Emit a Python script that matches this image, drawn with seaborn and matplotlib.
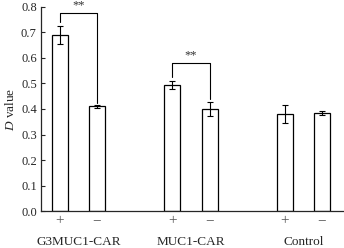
import seaborn as sns
import pandas as pd
import numpy as np
from matplotlib import pyplot as plt

groups = ['G3MUC1-CAR', 'MUC1-CAR', 'Control']
treat = ['+', '\u2212']
d_plus = [0.69, 0.495, 0.38]
d_minus = [0.41, 0.40, 0.385]
err_plus = [0.035, 0.015, 0.035]
err_minus = [0.005, 0.028, 0.008]

df = pd.DataFrame({
  'group': groups + groups,
  'treat': [treat[0]] * 3 + [treat[1]] * 3,
  'D': d_plus + d_minus,
  'err': err_plus + err_minus,
})

sns.set_style('ticks')
plt.rcParams['font.family'] = ['Liberation Serif', 'DejaVu Serif']
plt.rcParams['mathtext.fontset'] = 'custom'
plt.rcParams['mathtext.it'] = 'Liberation Serif:italic'
plt.rcParams['mathtext.rm'] = 'Liberation Serif'

fig = plt.figure(figsize=(3.44, 2.48), dpi=100)
ax = fig.add_axes([0.119, 0.149, 0.881, 0.823])

sns.barplot(data=df, x='group', y='D', hue='treat', hue_order=treat, order=groups,
            width=0.66, gap=0.57, errorbar=None, ax=ax,
            palette=['white', 'white'], edgecolor='black', linewidth=0.9, legend=False)

# error bars at bar centres
centres = {}
for patch, (_, row) in zip(ax.patches, df.iterrows()):
  cx = patch.get_x() + patch.get_width() / 2
  centres[(row['group'], row['treat'])] = cx
  ax.errorbar(cx, row['D'], yerr=row['err'], color='black', lw=0.8,
              capsize=2.5, capthick=0.8)

# significance brackets
def bracket(g, y_top, y_left, y_right):
  x1 = centres[(g, treat[0])]
  x2 = centres[(g, treat[1])]
  ax.plot([x1, x1, x2, x2], [y_left, y_top, y_top, y_right], color='black', lw=0.8)
  ax.text((x1 + x2) / 2, y_top + 0.008, '**', ha='center', va='bottom', fontsize=9,
          color='#333333')

bracket('G3MUC1-CAR', 0.775, 0.74, 0.425)
bracket('MUC1-CAR', 0.58, 0.525, 0.44)

ax.set_ylim(0, 0.8)
ax.set_xlim(-0.333, 2.36)
ax.set_yticks(np.arange(0, 0.81, 0.1))
ax.set_yticklabels([f'{v:.1f}' for v in np.arange(0, 0.81, 0.1)], fontsize=9)
ax.tick_params(axis='y', direction='in', length=3, width=0.8, pad=3)

# +/- labels under bars and group names below
xs = [centres[(g, t)] for g in groups for t in treat]
ax.set_xticks(xs, minor=True)
ax.set_xticklabels([t for g in groups for t in treat], minor=True, fontsize=11, color='#555555')
ax.set_xticks(range(len(groups)))
ax.set_xticklabels(groups, fontsize=9.5)
ax.tick_params(axis='x', which='both', length=0)
ax.tick_params(axis='x', which='minor', pad=2)
ax.tick_params(axis='x', which='major', pad=18)
ax.set_xlabel('')
ax.set_ylabel('$D$ value', fontsize=9.5, labelpad=3)

sns.despine(ax=ax)
for s in ['left', 'bottom']:
  ax.spines[s].set_linewidth(0.9)

fig.savefig('out.png', dpi=100)
